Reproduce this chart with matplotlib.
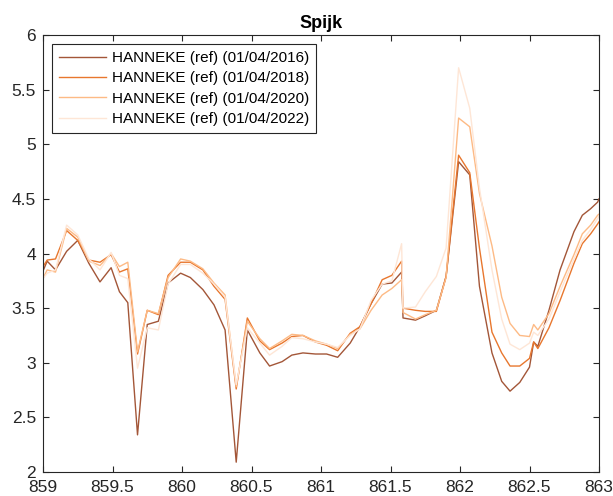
import matplotlib
matplotlib.use("Agg")
import matplotlib.pyplot as plt

plt.rcParams['font.family'] = ['Liberation Sans', 'DejaVu Sans']

# River kilometre positions of the cross sections
km = [859.00, 859.03, 859.09, 859.17, 859.25, 859.33, 859.41, 859.49, 859.55, 859.61,
      859.68, 859.75, 859.83, 859.90, 859.99, 860.06, 860.15, 860.23, 860.31, 860.39,
      860.47, 860.56, 860.63, 860.72, 860.79, 860.87, 860.96, 861.04, 861.12, 861.21,
      861.28, 861.36, 861.44, 861.51, 861.58, 861.59, 861.68, 861.75, 861.83, 861.90,
      861.99, 862.07, 862.14, 862.23, 862.30, 862.36, 862.43, 862.50, 862.53, 862.56,
      862.64, 862.72, 862.82, 862.88, 862.94, 862.99, 863.00]

h2016 = [3.84, 3.93, 3.85, 4.02, 4.12, 3.91, 3.74, 3.87, 3.65, 3.55,
         2.34, 3.35, 3.38, 3.73, 3.82, 3.78, 3.67, 3.53, 3.30, 2.09,
         3.30, 3.09, 2.97, 3.01, 3.07, 3.09, 3.08, 3.08, 3.05, 3.18,
         3.33, 3.54, 3.72, 3.73, 3.83, 3.41, 3.39, 3.43, 3.48, 3.79,
         4.84, 4.72, 3.70, 3.09, 2.83, 2.74, 2.82, 2.96, 3.19, 3.15,
         3.48, 3.85, 4.20, 4.35, 4.41, 4.47, 4.50]

h2018 = [3.88, 3.94, 3.95, 4.21, 4.12, 3.94, 3.92, 3.99, 3.83, 3.86,
         3.08, 3.48, 3.44, 3.80, 3.92, 3.92, 3.85, 3.70, 3.58, 2.76,
         3.41, 3.20, 3.12, 3.18, 3.24, 3.25, 3.19, 3.16, 3.11, 3.27,
         3.33, 3.54, 3.76, 3.80, 3.93, 3.50, 3.48, 3.47, 3.47, 3.79,
         4.90, 4.74, 4.05, 3.28, 3.09, 2.97, 2.97, 3.04, 3.19, 3.13,
         3.32, 3.57, 3.91, 4.09, 4.18, 4.27, 4.29]

h2020 = [3.77, 3.85, 3.83, 4.23, 4.15, 3.93, 3.89, 4.00, 3.88, 3.92,
         3.10, 3.48, 3.45, 3.78, 3.95, 3.93, 3.86, 3.73, 3.62, 2.78,
         3.38, 3.22, 3.13, 3.20, 3.26, 3.25, 3.20, 3.17, 3.13, 3.26,
         3.31, 3.48, 3.62, 3.68, 3.76, 3.46, 3.40, 3.44, 3.48, 3.78,
         5.24, 5.16, 4.55, 4.07, 3.60, 3.36, 3.25, 3.24, 3.35, 3.30,
         3.45, 3.70, 3.99, 4.18, 4.26, 4.35, 4.36]

h2022 = [3.77, 3.82, 3.85, 4.26, 4.17, 3.95, 3.85, 4.01, 3.80, 3.77,
         2.95, 3.32, 3.30, 3.72, 3.90, 3.90, 3.82, 3.72, 3.60, 2.80,
         3.32, 3.18, 3.07, 3.15, 3.23, 3.22, 3.19, 3.17, 3.14, 3.25,
         3.31, 3.57, 3.72, 3.75, 4.09, 3.50, 3.51, 3.65, 3.79, 4.05,
         5.70, 5.33, 4.60, 3.85, 3.40, 3.17, 3.12, 3.18, 3.28, 3.25,
         3.40, 3.65, 3.95, 4.12, 4.22, 4.32, 4.34]

labels = ["HANNEKE (ref) (01/04/2016)", "HANNEKE (ref) (01/04/2018)",
          "HANNEKE (ref) (01/04/2020)", "HANNEKE (ref) (01/04/2022)"]
colors = ["#A35638", "#E8772E", "#FDBA85", "#FEE6D6"]
series = [h2016, h2018, h2020, h2022]

xticks = [859, 859.5, 860, 860.5, 861, 861.5, 862, 862.5, 863]
xticklabels = ["859", "859.5", "860", "860.5", "861", "861.5", "862", "862.5", "863"]
yticks = [2, 2.5, 3, 3.5, 4, 4.5, 5, 5.5, 6]
yticklabels = ["2", "2.5", "3", "3.5", "4", "4.5", "5", "5.5", "6"]

fig = plt.figure(figsize=(6.13, 4.96), dpi=100)
ax = fig.add_axes([43 / 613, 1 - 472 / 496, 556 / 613, 437 / 496])

for y, c, lab in zip(series, colors, labels):
    ax.plot(km, y, color=c, lw=1.0, label=lab)

ax.set_xlim(859, 863)
ax.set_ylim(2, 6)
ax.set_xticks(xticks)
ax.set_xticklabels(xticklabels)
ax.set_yticks(yticks)
ax.set_yticklabels(yticklabels)

axcol = "#262626"
for s in ax.spines.values():
    s.set_color(axcol)
    s.set_linewidth(0.8)
ax.tick_params(direction="in", length=4, width=0.8, color=axcol,
               labelsize=12.5, labelcolor=axcol, top=True, right=True)
ax.tick_params(axis="x", pad=6)
ax.tick_params(axis="y", pad=5)

ax.set_title("Spijk", fontsize=13, fontweight="bold", color="black", pad=5)

leg = ax.legend(loc="upper left", bbox_to_anchor=(9 / 556, 1 - 9 / 437),
                borderaxespad=0, fontsize=11, frameon=True, fancybox=False,
                framealpha=1, edgecolor=axcol, handlelength=3.1,
                handletextpad=0.35, labelspacing=0.42, borderpad=0.45)
leg.get_frame().set_linewidth(0.8)

fig.savefig("out.png", dpi=100)
